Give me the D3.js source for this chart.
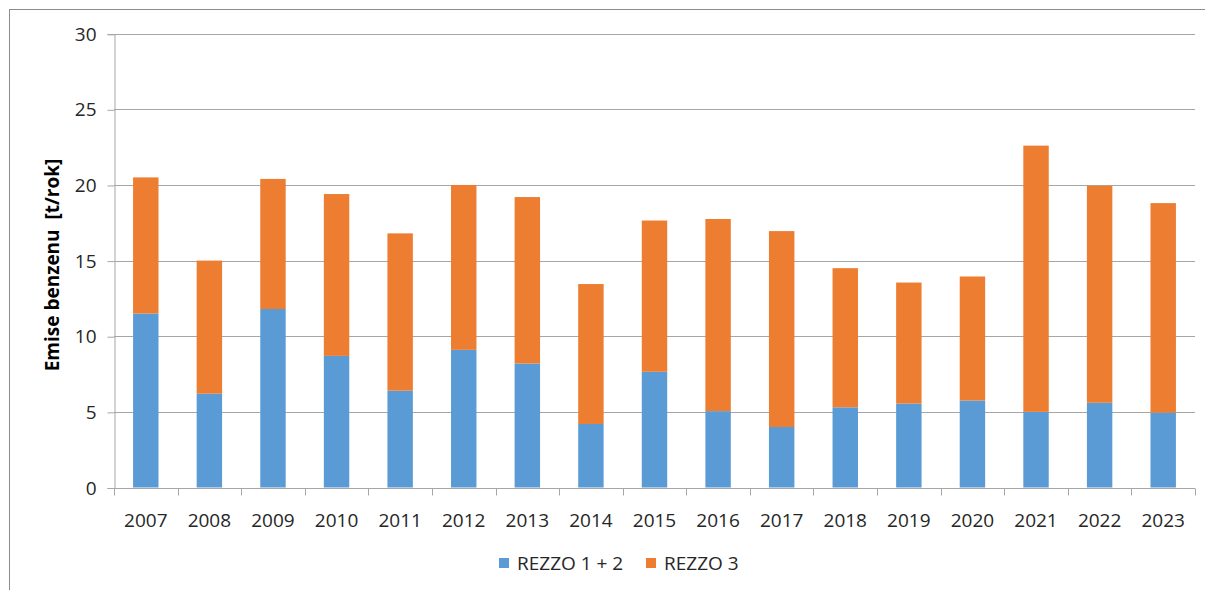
<!DOCTYPE html>
<html>
<head>
<meta charset="utf-8">
<script src="https://cdn.jsdelivr.net/npm/d3@7"></script>
<style>
body{margin:0;background:#fff;overflow:hidden;}
text{font-family:"Open Sans","Noto Sans",sans-serif;fill:#262626;}
</style>
</head>
<body>
<script>
// data
const years=["2007","2008","2009","2010","2011","2012","2013","2014","2015","2016","2017","2018","2019","2020","2021","2022","2023"];
const rezzo12=[11.5,6.2,11.8,8.7,6.4,9.1,8.2,4.2,7.65,5.05,4.0,5.3,5.55,5.75,5.0,5.6,4.95];
const rezzo3=[9.0,8.8,8.6,10.7,10.4,10.9,11.0,9.25,10.0,12.7,12.95,9.2,8.0,8.2,17.6,14.35,13.85];
const seriesNames=["REZZO 1 + 2","REZZO 3"];
const yTicks=[0,5,10,15,20,25,30];

const W=1205,H=590;
const mLeft=114,mRight=1195,mTop=33.7,mBottom=487.5;
const colors=["#5B9BD5","#ED7D31"];

const svg=d3.select("body").append("svg").attr("width",W).attr("height",H).style("display","block");

// outer frame (only top and left edges visible in the crop)
svg.append("rect").attr("x",9.5).attr("y",9.5).attr("width",W+50).attr("height",H+50)
   .attr("fill","none").attr("stroke","#8c8c8c");

const x=d3.scaleBand().domain(years).range([mLeft,mRight]).paddingInner(0.6).paddingOuter(0.3);
const y=d3.scaleLinear().domain([0,30]).range([mBottom,mTop]);

// gridlines
svg.append("g").selectAll("line").data(yTicks.filter(d=>d>0)).enter().append("line")
   .attr("x1",mLeft).attr("x2",mRight).attr("y1",d=>Math.round(y(d))+0.5).attr("y2",d=>Math.round(y(d))+0.5)
   .attr("stroke","#a6a6a6");

// stacked bars
const table=years.map((yr,i)=>({year:yr,a:rezzo12[i],b:rezzo3[i]}));
const stack=d3.stack().keys(["a","b"])(table);
svg.append("g").selectAll("g").data(stack).enter().append("g")
   .attr("fill",(d,i)=>colors[i])
   .selectAll("rect").data(d=>d).enter().append("rect")
   .attr("x",d=>x(d.data.year))
   .attr("width",x.bandwidth())
   .attr("y",d=>y(d[1]))
   .attr("height",d=>y(d[0])-y(d[1]));

// y axis
const yAxis=d3.axisLeft(y).tickValues(yTicks).tickSize(7).tickPadding(11);
const gy=svg.append("g").attr("transform","translate("+(mLeft+0.5)+",0.5)").call(yAxis);
gy.selectAll("path,line").attr("stroke","#a6a6a6");
gy.selectAll("text").style("font-size","19px").style("font-family","\"Open Sans\",sans-serif").attr("fill","#262626");

// x axis with ticks between categories
const gx=svg.append("g").attr("transform","translate(0,"+(Math.round(mBottom)+0.5)+")");
gx.append("line").attr("x1",mLeft).attr("x2",mRight).attr("stroke","#a6a6a6");
gx.selectAll(".tk").data(d3.range(years.length+1)).enter().append("line")
   .attr("x1",i=>Math.round(mLeft+i*(mRight-mLeft)/years.length)+0.5)
   .attr("x2",i=>Math.round(mLeft+i*(mRight-mLeft)/years.length)+0.5)
   .attr("y1",0).attr("y2",7).attr("stroke","#a6a6a6");
gx.selectAll("text").data(years).enter().append("text")
   .attr("x",d=>x(d)+x.bandwidth()/2).attr("y",38)
   .attr("text-anchor","middle").style("font-size","19px").text(d=>d);

// y title
svg.append("text").attr("transform","translate(59,265) rotate(-90)")
   .attr("text-anchor","middle").style("font-size","19px").style("font-weight","bold")
   .style("white-space","pre").style("fill","#000").text("Emise benzenu  [t/rok]");

// legend
const legX=[499,646];
const lg=svg.append("g").selectAll("g").data(seriesNames).enter().append("g")
   .attr("transform",(d,i)=>"translate("+legX[i]+",558)");
lg.append("rect").attr("width",10).attr("height",10).attr("fill",(d,i)=>colors[i]);
lg.append("text").attr("x",18).attr("y",12).style("font-size","19px").text(d=>d);
</script>
</body>
</html>
